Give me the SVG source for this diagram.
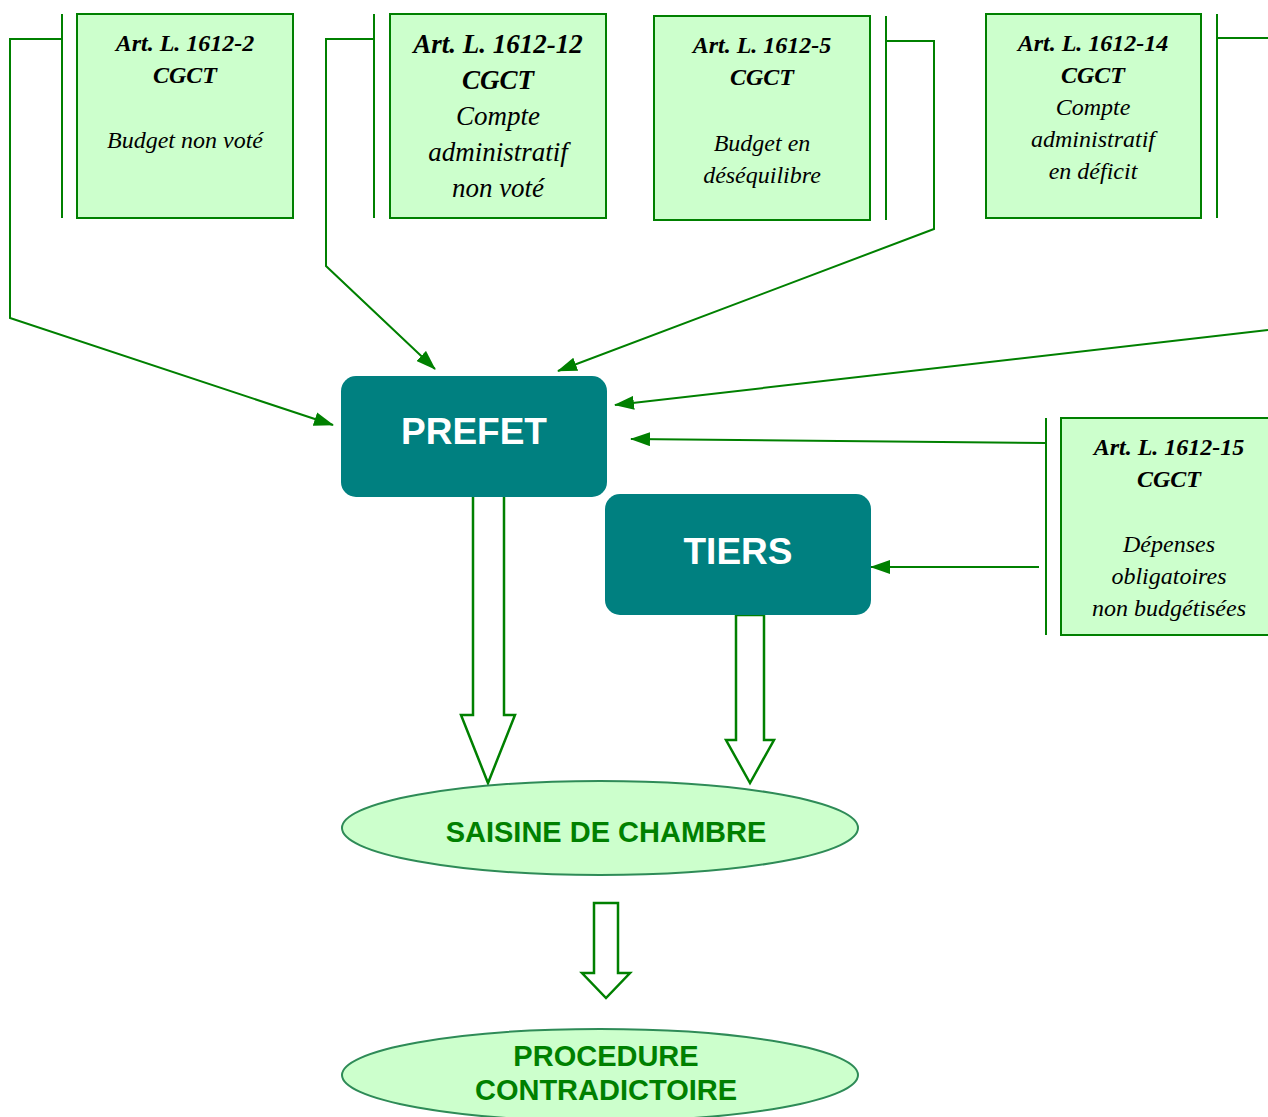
<svg xmlns="http://www.w3.org/2000/svg" width="1268" height="1117" viewBox="0 0 1268 1117">
<style>
.box{fill:#ccffcc;stroke:#008000;stroke-width:2}
.br{stroke:#008000;stroke-width:2;fill:none}
.con{stroke:#008000;stroke-width:2;fill:none}
.t{font-family:"Liberation Serif",serif;font-style:italic;fill:#000;text-anchor:middle}
.b{font-weight:bold}
.main{fill:#008080}
.mt{font-family:"Liberation Sans",Arial,sans-serif;font-weight:bold;fill:#fff;text-anchor:middle;font-size:37px}
.ell{fill:#ccffcc;stroke:#2e8b57;stroke-width:2}
.et{font-family:"Liberation Sans",Arial,sans-serif;font-weight:bold;fill:#008000;text-anchor:middle;font-size:29px}
.blk{fill:#fff;stroke:#008000;stroke-width:2.5;stroke-linejoin:miter}
</style>
<defs>
<marker id="ah2" markerWidth="20" markerHeight="14" refX="19" refY="7" orient="auto" markerUnits="userSpaceOnUse" viewBox="0 0 20 14">
<path d="M0,0 L20,7 L0,14 z" fill="#008000"/>
</marker>
</defs>
<rect width="1268" height="1117" fill="#fff"/>

<g id="connectors">
<polyline class="con" points="62,39 10,39 10,318 333,425" marker-end="url(#ah2)"/>
<polyline class="con" points="374,39 326,39 326,266 435,369" marker-end="url(#ah2)"/>
<polyline class="con" points="886,41 934,41 934,229 558,371" marker-end="url(#ah2)"/>
<polyline class="con" points="1217,38 1268,38"/>
<polyline class="con" points="1268,330 615,405" marker-end="url(#ah2)"/>
<polyline class="con" points="1046,443 631,439" marker-end="url(#ah2)"/>
<polyline class="con" points="1039,567 871,567" marker-end="url(#ah2)"/>
<path class="blk" d="M473,495 L504,495 L504,715 L515,715 L488,783 L461,715 L473,715 Z"/>
<path class="blk" d="M736,615 L764,615 L764,740 L774,740 L750,783 L726,740 L736,740 Z"/>
<path class="blk" d="M594,903 L618,903 L618,973 L630,973 L606,998 L582,973 L594,973 Z"/>
</g>

<g id="n1">
<line class="br" x1="62" y1="14" x2="62" y2="218"/>
<rect class="box" x="77" y="14" width="216" height="204"/>
<text class="t b" x="185" y="51" font-size="24">Art. L. 1612-2</text>
<text class="t b" x="185" y="83" font-size="24">CGCT</text>
<text class="t" x="185" y="148" font-size="24">Budget non voté</text>
</g>

<g id="n2">
<line class="br" x1="374" y1="14" x2="374" y2="218"/>
<rect class="box" x="390" y="14" width="216" height="204"/>
<text class="t b" x="498" y="53" font-size="27">Art. L. 1612-12</text>
<text class="t b" x="498" y="89" font-size="27">CGCT</text>
<text class="t" x="498" y="125" font-size="27">Compte</text>
<text class="t" x="498" y="161" font-size="27">administratif</text>
<text class="t" x="498" y="197" font-size="27">non voté</text>
</g>

<g id="n3">
<rect class="box" x="654" y="16" width="216" height="204"/>
<line class="br" x1="886" y1="16" x2="886" y2="220"/>
<text class="t b" x="762" y="53" font-size="24">Art. L. 1612-5</text>
<text class="t b" x="762" y="85" font-size="24">CGCT</text>
<text class="t" x="762" y="151" font-size="24">Budget en</text>
<text class="t" x="762" y="183" font-size="24">déséquilibre</text>
</g>

<g id="n4">
<rect class="box" x="986" y="14" width="215" height="204"/>
<line class="br" x1="1217" y1="14" x2="1217" y2="218"/>
<text class="t b" x="1093" y="51" font-size="24">Art. L. 1612-14</text>
<text class="t b" x="1093" y="83" font-size="24">CGCT</text>
<text class="t" x="1093" y="115" font-size="24">Compte</text>
<text class="t" x="1093" y="147" font-size="24">administratif</text>
<text class="t" x="1093" y="179" font-size="24">en déficit</text>
</g>

<g id="n5">
<line class="br" x1="1046" y1="418" x2="1046" y2="635"/>
<rect class="box" x="1061" y="418" width="216" height="217"/>
<text class="t b" x="1169" y="455" font-size="24">Art. L. 1612-15</text>
<text class="t b" x="1169" y="487" font-size="24">CGCT</text>
<text class="t" x="1169" y="552" font-size="24">Dépenses</text>
<text class="t" x="1169" y="584" font-size="24">obligatoires</text>
<text class="t" x="1169" y="616" font-size="24">non budgétisées</text>
</g>

<g id="prefet">
<rect class="main" x="341" y="376" width="266" height="121" rx="15"/>
<text class="mt" x="474" y="444">PREFET</text>
</g>

<g id="tiers">
<rect class="main" x="605" y="494" width="266" height="121" rx="15"/>
<text class="mt" x="738" y="564">TIERS</text>
</g>

<g id="saisine">
<ellipse class="ell" cx="600" cy="828" rx="258" ry="47"/>
<text class="et" x="606" y="842">SAISINE DE CHAMBRE</text>
</g>

<g id="procedure">
<ellipse class="ell" cx="600" cy="1075" rx="258" ry="46"/>
<text class="et" x="606" y="1066">PROCEDURE</text>
<text class="et" x="606" y="1100">CONTRADICTOIRE</text>
</g>
</svg>
